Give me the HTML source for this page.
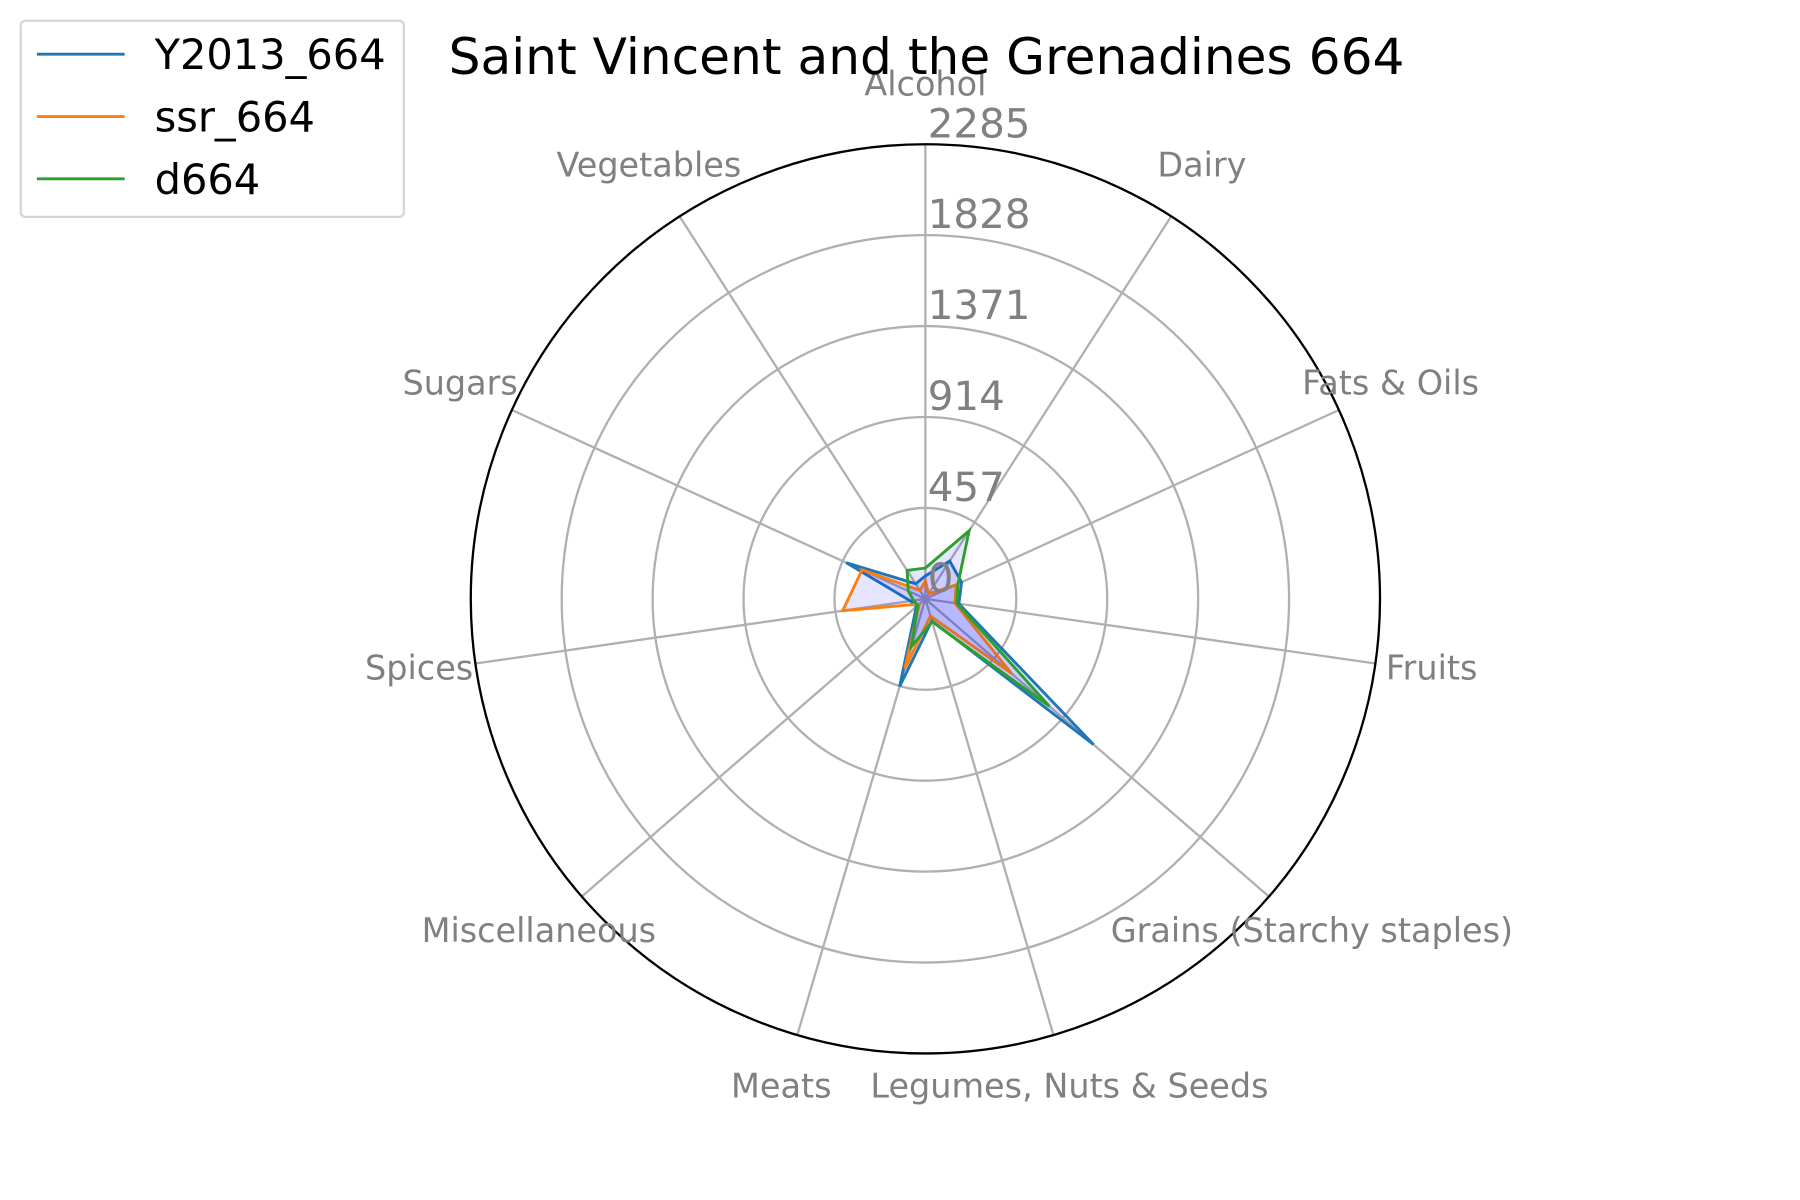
<!DOCTYPE html>
<html><head><meta charset="utf-8"><style>
html,body{margin:0;padding:0;background:#fff;}
svg{display:block;}
text{font-family:"DejaVu Sans","Liberation Sans",sans-serif;}
</style></head><body>
<svg id="chart" width="1800" height="1200" viewBox="0 0 1560 1040" preserveAspectRatio="none" xmlns="http://www.w3.org/2000/svg">
<rect width="1560" height="1040" fill="#fff"/>
<g id="grid"></g>
<g id="series"></g>
<g id="labels"></g>
<text x="803" y="64" font-size="43.5" text-anchor="middle" fill="#000">Saint Vincent and the Grenadines 664</text>
<g>
<rect x="18" y="18" width="332" height="170" rx="4" fill="#fff" stroke="#d6d6d6" stroke-width="2"/>
<g><line x1="32" y1="47" x2="108" y2="47" stroke="#1f77b4" stroke-width="2.5"/><text x="134" y="60" font-size="36">Y2013_664</text></g>
<g><line x1="32" y1="101" x2="108" y2="101" stroke="#ff7f0e" stroke-width="2.5"/><text x="134" y="114" font-size="36">ssr_664</text></g>
<g><line x1="32" y1="155" x2="108" y2="155" stroke="#2ca02c" stroke-width="2.5"/><text x="134" y="168" font-size="36">d664</text></g>
</g>
</svg>
<script>
const categories = ["Alcohol","Dairy","Fats & Oils","Fruits","Grains (Starchy staples)","Legumes, Nuts & Seeds","Meats","Miscellaneous","Spices","Sugars","Vegetables"];
const ticks = [0,457,914,1371,1828,2285];
const seriesNames = ["Y2013_664","ssr_664","d664"];
const y2013 = [115,226,200,170,1118,115,460,60,75,437,90];
const ssr = [90,30,170,150,573,90,365,40,420,350,50];
const d664 = [155,407,180,160,825,120,250,50,60,95,170];
const colors = ["#1f77b4","#ff7f0e","#2ca02c"];
const NS="http://www.w3.org/2000/svg";
const cx=802, cy=519, R=394, rmax=2285;
const N=categories.length;
function ang(i){return 2*Math.PI*i/N;}
function pt(i,v){const r=v/rmax*R;return [cx+r*Math.sin(ang(i)), cy-r*Math.cos(ang(i))];}
function mk(tag,attrs,parent){const e=document.createElementNS(NS,tag);for(const k in attrs)e.setAttribute(k,attrs[k]);parent.appendChild(e);return e;}
const grid=document.getElementById('grid'), ser=document.getElementById('series'), lab=document.getElementById('labels');
ticks.forEach((t,k)=>{ if(t>0&&t<rmax){const c=mk('circle',{cx:cx,cy:cy,r:t/rmax*R,fill:'none',stroke:'#b0b0b0','stroke-width':2},grid);

}});
categories.forEach((c,i)=>{const p=pt(i,rmax);const l=mk('line',{x1:cx,y1:cy,x2:p[0],y2:p[1],stroke:'#b0b0b0','stroke-width':2},grid);


const q=pt(i,rmax*1.125);
const t=mk('text',{x:q[0],y:q[1]+7,'font-size':29,fill:'#808080','text-anchor':'middle'},lab);
t.textContent=c;

});
const oc=mk('circle',{cx:cx,cy:cy,r:R,fill:'none',stroke:'#000','stroke-width':2},grid);


[y2013,ssr,d664].forEach((vals,s)=>{const pts=vals.map((v,i)=>pt(i,v).join(',')).join(' ');
const f=mk('polygon',{points:pts,fill:'rgba(0,0,255,0.1)',stroke:'none'},ser);


const p=mk('polygon',{points:pts,fill:'none',stroke:colors[s],'stroke-width':2.5,'stroke-linejoin':'miter'},ser);

});
ticks.forEach(t=>{const r=t/rmax*R;const tx=mk('text',{x:cx+2,y:cy-r-6,'font-size':35,fill:'#808080'},lab);
tx.textContent=t;

});
</script>
</body></html>
